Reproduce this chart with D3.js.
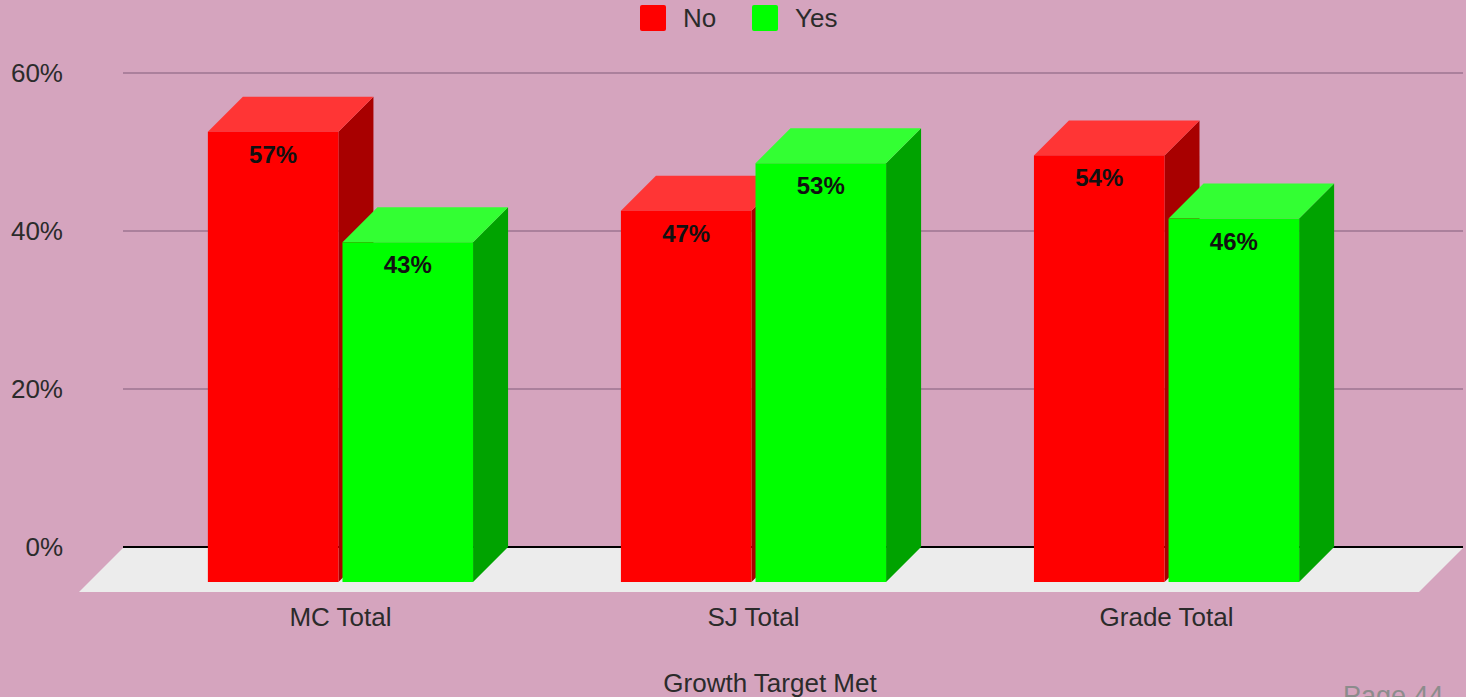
<!DOCTYPE html>
<html>
<head>
<meta charset="utf-8">
<script src="https://cdn.jsdelivr.net/npm/d3@7"></script>
<style>
  html, body { margin: 0; padding: 0; background: #d5a4be; }
  svg { display: block; }
  text { font-family: "Liberation Sans", Arial, sans-serif; }
</style>
</head>
<body>
<svg id="chart" width="1466" height="697"></svg>
<script>
// Growth target met, by total group
const categories = ["MC Total", "SJ Total", "Grade Total"];
const seriesNames = ["No", "Yes"];
const noValues = [0.57, 0.47, 0.54];
const yesValues = [0.43, 0.53, 0.46];
const yTicks = [0, 0.2, 0.4, 0.6];

const faceColors = {
  No:  { front: "#ff0000", top: "#ff3535", side: "#a80000" },
  Yes: { front: "#00ff00", top: "#33ff33", side: "#00a300" }
};

const svg = d3.select("#chart");
const depth = 35;          // bar extrusion (x right, y up)
const floorDepth = 44;     // floor slab extrusion
const textColor = "#2b2b2b";
const fontSize = 26;

// Back plane vertical scale
const y = d3.scaleLinear().domain([0, 0.6]).range([547, 73]);
const plotLeft = 123, plotRight = 1463;

// Front-face horizontal scales
const x0 = d3.scaleBand().domain(categories).range([60, 1447]).padding(0.358);
const x1 = d3.scaleBand().domain(seriesNames).range([0, x0.bandwidth()]).paddingInner(0.03);

// Gridlines
svg.append("g").selectAll("line")
  .data(yTicks.filter(d => d > 0))
  .join("line")
  .attr("x1", plotLeft).attr("x2", plotRight)
  .attr("y1", d => y(d)).attr("y2", d => y(d))
  .attr("stroke", "#9c7590").attr("stroke-width", 1.5);

// Y tick labels
svg.append("g").selectAll("text")
  .data(yTicks)
  .join("text")
  .attr("x", 63).attr("y", d => y(d))
  .attr("dy", "0.35em")
  .attr("text-anchor", "end")
  .attr("font-size", fontSize)
  .attr("fill", textColor)
  .text(d3.format(".0%"));

// Floor slab
const y0 = y(0);
svg.append("path")
  .attr("d", `M${plotLeft},${y0 + 1} L${plotRight},${y0 + 1} L${plotRight - floorDepth},${y0 + 1 + floorDepth} L${plotLeft - floorDepth},${y0 + 1 + floorDepth} Z`)
  .attr("fill", "#ececec");

// Zero line
svg.append("line")
  .attr("x1", plotLeft).attr("x2", plotRight)
  .attr("y1", y0).attr("y2", y0)
  .attr("stroke", "#000").attr("stroke-width", 2);

// Bars
const rows = categories.map((c, i) => ({
  category: c,
  values: [{ key: "No", value: noValues[i] }, { key: "Yes", value: yesValues[i] }]
}));

const bars = svg.append("g").selectAll("g")
  .data(rows)
  .join("g")
  .attr("transform", d => `translate(${x0(d.category)},0)`);

bars.selectAll("g.bar")
  .data(d => d.values)
  .join("g")
  .attr("class", "bar")
  .each(function (d) {
    const g = d3.select(this);
    const xl = x1(d.key), w = x1.bandwidth();
    const ft = y(d.value) + depth;   // front top
    const fb = y(0) + depth;         // front bottom
    const c = faceColors[d.key];
    // side face
    g.append("path")
      .attr("d", `M${xl + w},${ft} L${xl + w + depth},${ft - depth} L${xl + w + depth},${fb - depth} L${xl + w},${fb} Z`)
      .attr("fill", c.side);
    // top face
    g.append("path")
      .attr("d", `M${xl},${ft} L${xl + depth},${ft - depth} L${xl + w + depth},${ft - depth} L${xl + w},${ft} Z`)
      .attr("fill", c.top);
    // front face
    g.append("rect")
      .attr("x", xl).attr("y", ft)
      .attr("width", w).attr("height", fb - ft)
      .attr("fill", c.front);
    // value label
    g.append("text")
      .attr("x", xl + w / 2).attr("y", ft + 31)
      .attr("text-anchor", "middle")
      .attr("font-size", 24)
      .attr("font-weight", "bold")
      .attr("fill", "#111")
      .text(d3.format(".0%")(d.value));
  });

// Category labels
svg.append("g").selectAll("text")
  .data(categories)
  .join("text")
  .attr("x", d => x0(d) + x0.bandwidth() / 2)
  .attr("y", 626)
  .attr("text-anchor", "middle")
  .attr("font-size", fontSize)
  .attr("fill", textColor)
  .text(d => d);

// Axis title
svg.append("text")
  .attr("x", 770).attr("y", 692)
  .attr("text-anchor", "middle")
  .attr("font-size", fontSize)
  .attr("fill", textColor)
  .text("Growth Target Met");

// Legend
const legendX = [640, 752];
const legend = svg.append("g").selectAll("g")
  .data(seriesNames)
  .join("g")
  .attr("transform", (d, i) => `translate(${legendX[i]},5)`);
legend.append("rect")
  .attr("width", 26).attr("height", 26).attr("rx", 2)
  .attr("fill", d => faceColors[d].front);
legend.append("text")
  .attr("x", 43).attr("y", 13).attr("dy", "0.35em")
  .attr("font-size", fontSize)
  .attr("fill", textColor)
  .text(d => d);

// Page footer
svg.append("text")
  .attr("x", 1343).attr("y", 705)
  .attr("font-family", "'Liberation Mono', monospace")
  .attr("font-size", 27)
  .attr("fill", "#8c8c8c")
  .text("Page 44");
</script>
</body>
</html>
